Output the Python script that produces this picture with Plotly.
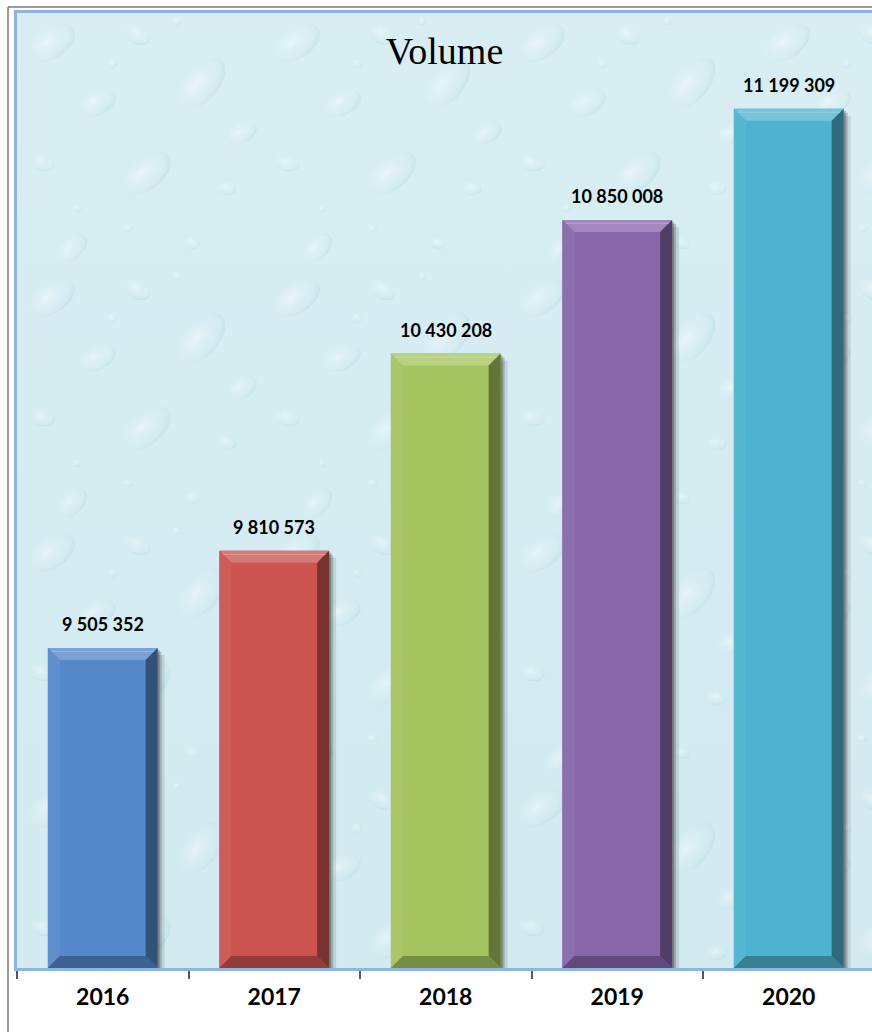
import base64
import plotly.graph_objects as go

# ---- data ----
years = ["2016", "2017", "2018", "2019", "2020"]
volumes = [9505352, 9810573, 10430208, 10850008, 11199309]
bar_colors = ["#5588C9", "#CB5451", "#A4C45F", "#8767AA", "#4EB3CF"]
title_text = "Volume"
y_axis_min, y_axis_max = 8_500_000, 11_500_000

# ---- geometry ----
W, H = 872, 1032
M = dict(l=17, r=0, t=13, b=64)
plot_w = W - M["l"] - M["r"]
plot_h = H - M["t"] - M["b"]
x_range = [-0.5, -0.5 + plot_w / 171.5]
bar_w = 0.64


def mix(hex_color, target, t):
    h = hex_color.lstrip("#")
    r, g, b = (int(h[i:i + 2], 16) for i in (0, 2, 4))
    tr, tg, tb = target
    r = round(r + (tr - r) * t)
    g = round(g + (tg - g) * t)
    b = round(b + (tb - b) * t)
    return f"rgb({r},{g},{b})"


def lighter(c, t):
    return mix(c, (255, 255, 255), t)


def darker(c, t):
    return mix(c, (0, 0, 0), t)


# ---- decorative water-drop background texture (SVG) ----
drop_specs = [
    # cx, cy, rx, ry, angle
    (35, 30, 26, 15, -35), (120, 22, 14, 9, 25), (185, 70, 30, 17, -50),
    (80, 90, 20, 12, -25), (25, 150, 13, 8, 10), (130, 160, 28, 16, -40),
    (210, 175, 10, 7, 0), (95, 50, 5, 5, 0), (60, 195, 4, 4, 0),
    (160, 8, 4, 4, 0), (225, 120, 16, 10, -30), (55, 235, 18, 11, -45),
    (175, 230, 8, 6, 15), (110, 215, 6, 4, 0),
]
drops = "".join(
    f'<ellipse cx="{cx}" cy="{cy}" rx="{rx}" ry="{ry}" '
    f'transform="rotate({a} {cx} {cy})" fill="url(#d)"/>'
    for cx, cy, rx, ry, a in drop_specs
)
svg = (
    f'<svg xmlns="http://www.w3.org/2000/svg" width="{plot_w}" height="{plot_h}">'
    '<defs>'
    '<radialGradient id="d" cx="0.42" cy="0.38" r="0.68">'
    '<stop offset="0" stop-color="#ffffff" stop-opacity="0.45"/>'
    '<stop offset="0.6" stop-color="#dcf0f5" stop-opacity="0.12"/>'
    '<stop offset="1" stop-color="#a6cfdc" stop-opacity="0.45"/>'
    '</radialGradient>'
    '<linearGradient id="bg" x1="0" y1="0" x2="0" y2="1">'
    '<stop offset="0" stop-color="#d8eef3"/><stop offset="1" stop-color="#d2eaf0"/>'
    '</linearGradient>'
    f'<pattern id="p" width="245" height="255" patternUnits="userSpaceOnUse">{drops}</pattern>'
    '</defs>'
    '<rect width="100%" height="100%" fill="url(#bg)"/>'
    '<rect width="100%" height="100%" fill="url(#p)"/>'
    '</svg>'
)
bg_uri = "data:image/svg+xml;base64," + base64.b64encode(svg.encode()).decode()

xs = list(range(len(years)))
fmt = [f"{v:,}".replace(",", " ") for v in volumes]

fig = go.Figure()
fig.add_trace(go.Bar(
    x=xs, y=volumes, width=bar_w,
    marker=dict(color=bar_colors, line=dict(width=0)),
    hoverinfo="skip",
))

# bevel & shadow decoration computed from data through axis scale
px_x = plot_w / (x_range[1] - x_range[0])
px_y = plot_h / (y_axis_max - y_axis_min)
bev = 12
dx = bev / px_x
dy = bev / px_y
shapes = []
for i, (v, c) in enumerate(zip(volumes, bar_colors)):
    x0, x1 = i - bar_w / 2, i + bar_w / 2
    y0, y1 = y_axis_min, v
    for k, a in ((7, 0.10), (4, 0.18), (2, 0.25)):
        shapes.append(dict(type="rect", xref="x", yref="y", layer="below",
                           x0=x0 + k / px_x, x1=x1 + k / px_x,
                           y0=y0, y1=y1 - k / px_y,
                           fillcolor=f"rgba(0,0,0,{a})", line=dict(width=0)))
    shapes.append(dict(type="path", xref="x", yref="y", layer="above",
                       path=f"M{x0},{y1} L{x1},{y1} L{x1-dx},{y1-dy} L{x0+dx},{y1-dy} Z",
                       fillcolor=lighter(c, 0.22), line=dict(width=0)))
    shapes.append(dict(type="path", xref="x", yref="y", layer="above",
                       path=f"M{x0},{y1} L{x0+dx},{y1-dy} L{x0+dx},{y0+dy} L{x0},{y0} Z",
                       fillcolor=lighter(c, 0.05), line=dict(width=0)))
    shapes.append(dict(type="path", xref="x", yref="y", layer="above",
                       path=f"M{x1},{y1} L{x1},{y0} L{x1-dx},{y0+dy} L{x1-dx},{y1-dy} Z",
                       fillcolor=darker(c, 0.40), line=dict(width=0)))
    shapes.append(dict(type="path", xref="x", yref="y", layer="above",
                       path=f"M{x0},{y0} L{x1},{y0} L{x1-dx},{y0+dy} L{x0+dx},{y0+dy} Z",
                       fillcolor=darker(c, 0.28), line=dict(width=0)))
    shapes.append(dict(type="line", xref="x", yref="y", layer="above",
                       x0=x0 + dx * 0.3, x1=x1 - dx * 0.3, y0=y1 - dy * 0.3, y1=y1 - dy * 0.3,
                       line=dict(color=lighter(c, 0.4), width=1)))

# outer frame lines (paper coords)
fx = (8 - M["l"]) / plot_w
fy_top = 1 + (M["t"] - 7) / plot_h
fy_bot = -M["b"] / plot_h
shapes.append(dict(type="line", xref="paper", yref="paper", x0=fx, x1=fx, y0=fy_bot, y1=fy_top,
                   line=dict(color="#7a7a7a", width=1.5)))
shapes.append(dict(type="line", xref="paper", yref="paper", x0=fx, x1=1.01, y0=fy_top, y1=fy_top,
                   line=dict(color="#7a7a7a", width=1.5)))

annotations = []
for i, (v, t) in enumerate(zip(volumes, fmt)):
    annotations.append(dict(x=i, y=v, xref="x", yref="y", text=t, showarrow=False,
                            yanchor="bottom", yshift=11,
                            font=dict(family="Lato", size=18, color="#000000", weight=700)))

fig.update_layout(
    width=W, height=H,
    margin=M,
    paper_bgcolor="#ffffff",
    plot_bgcolor="#d5ebf1",
    showlegend=False,
    bargap=0.36,
    title=dict(text=title_text, x=0.5 + (M["l"] / 2) / W, xanchor="center",
               y=1 - 51 / H, yanchor="middle",
               font=dict(family="Liberation Serif", size=38, color="#000000")),
    images=[dict(source=bg_uri, xref="paper", yref="paper", x=0, y=1, sizex=1, sizey=1,
                 sizing="stretch", xanchor="left", yanchor="top", layer="below")],
    shapes=shapes,
    annotations=annotations,
    xaxis=dict(
        range=x_range, tickmode="array", tickvals=xs, ticktext=years,
        ticks="", showgrid=False, zeroline=False,
        showline=True, linecolor="#8EB4E3", linewidth=3, mirror=True,
        tickfont=dict(family="Lato", size=23, color="#000000", weight=700),
        ticklabelstandoff=6,
        minor=dict(tickmode="linear", tick0=-0.5, dtick=1, ticks="outside",
                   ticklen=8, tickcolor="#595959", tickwidth=1.5, showgrid=False),
    ),
    yaxis=dict(
        range=[y_axis_min, y_axis_max], showticklabels=False, ticks="",
        showgrid=False, zeroline=False,
        showline=True, linecolor="#8EB4E3", linewidth=3, mirror=False,
    ),
)

fig.write_html("out.html", config={"displayModeBar": False},
               post_script="document.body.style.margin='0';document.body.style.overflow='hidden';")
